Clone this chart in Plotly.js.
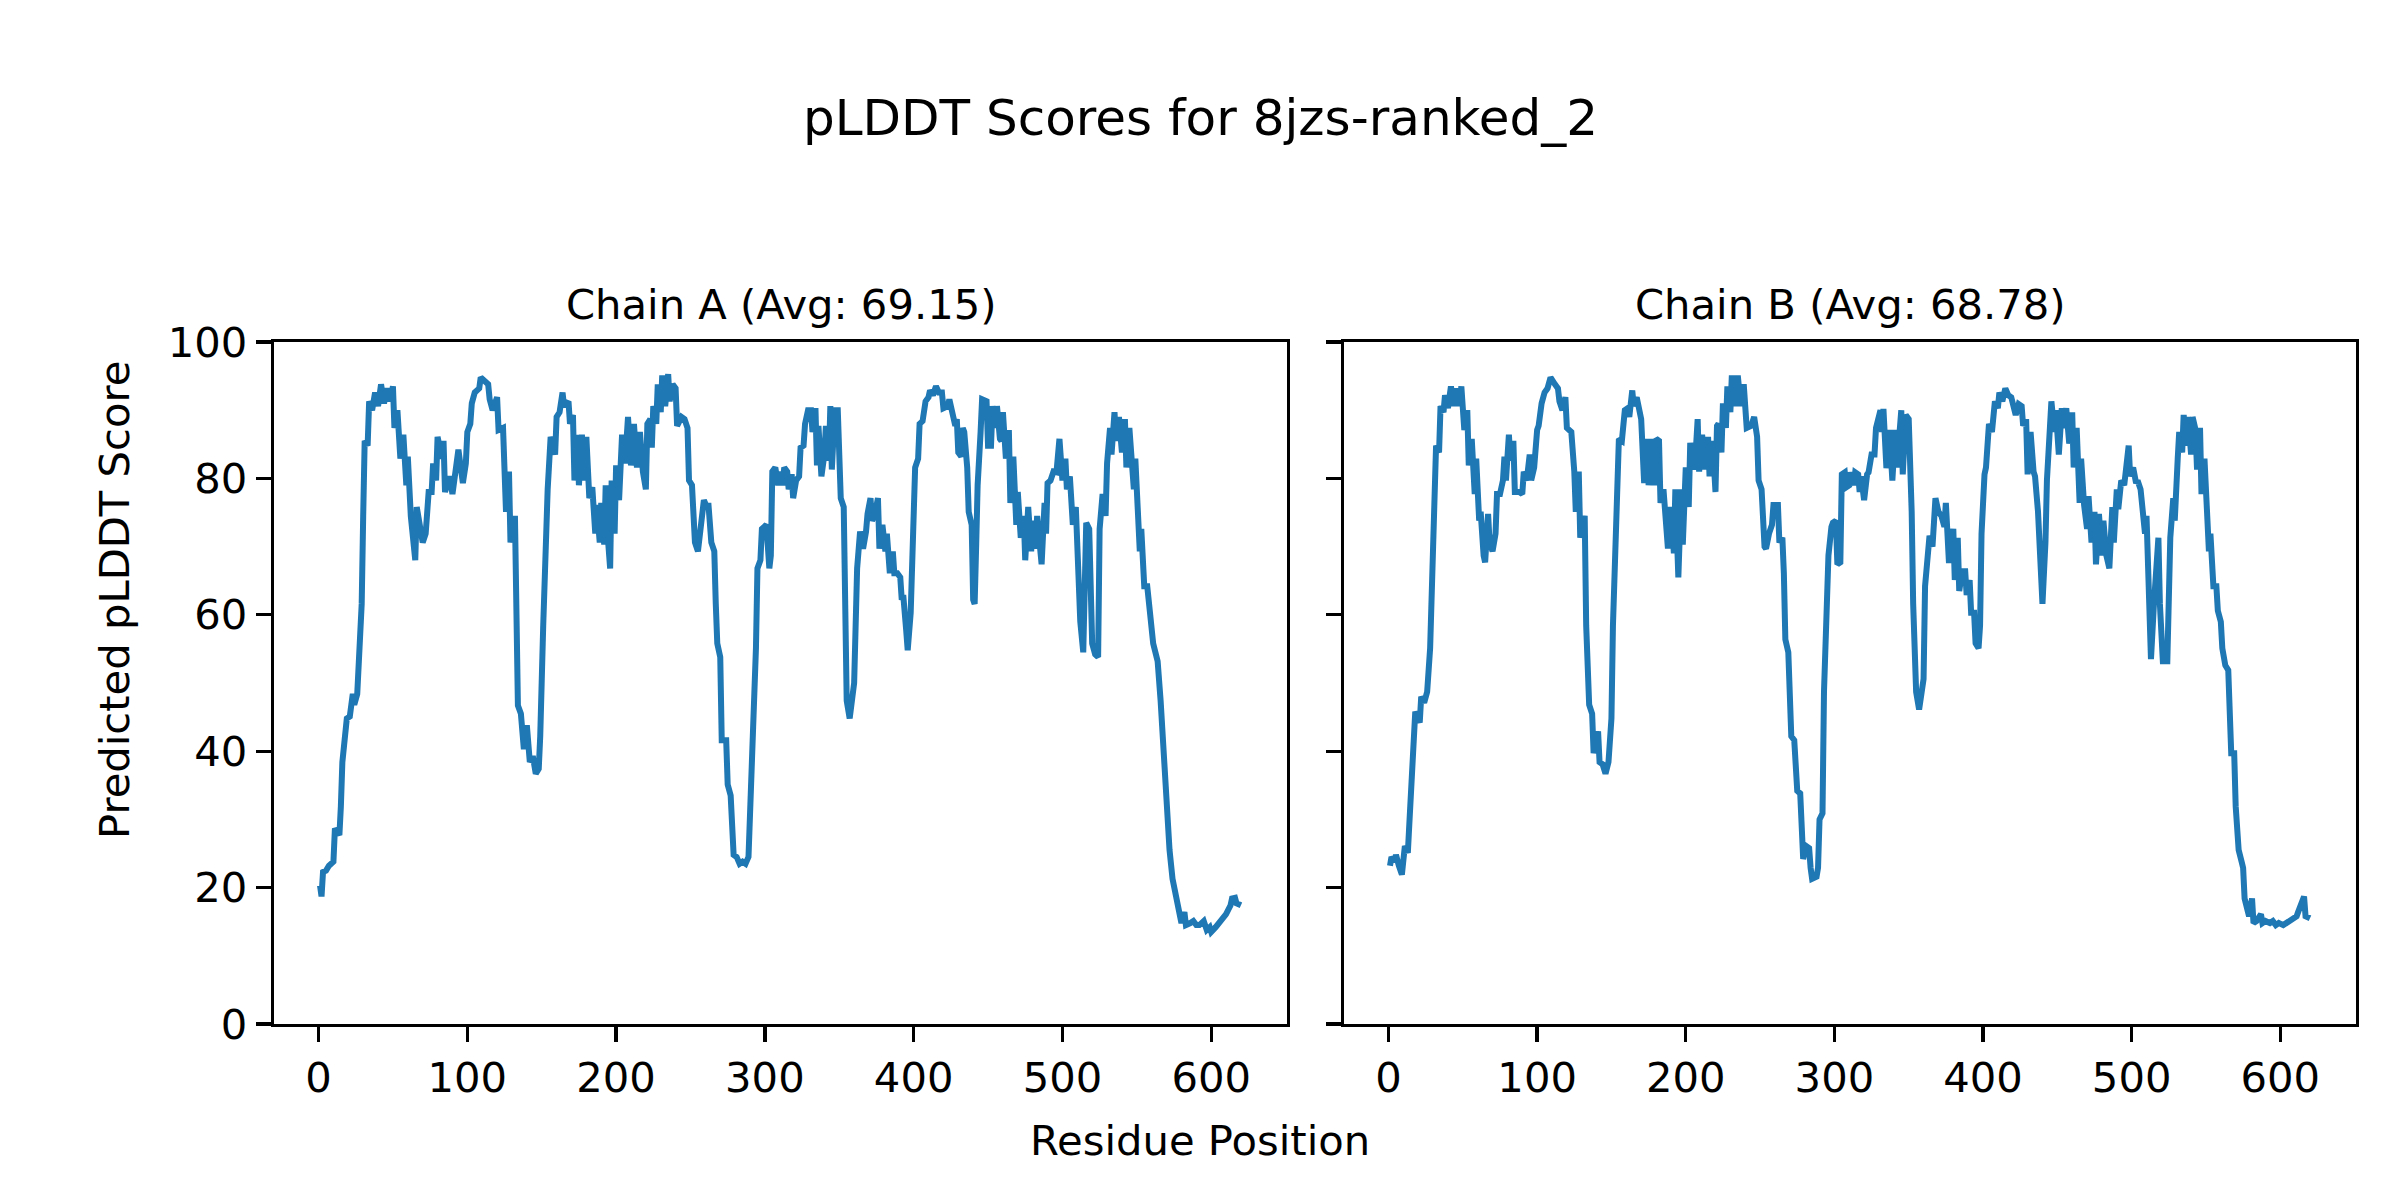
<!DOCTYPE html>
<html>
<head>
<meta charset="utf-8">
<script src="https://cdn.plot.ly/plotly-3.0.1.min.js"></script>
<style>html,body{margin:0;padding:0;background:#fff;}#chart{width:2400px;height:1200px;}</style>
</head>
<body>
<div id="chart"></div>
<script>
// ---- data ----
const figTitle = "pLDDT Scores for 8jzs-ranked_2";
const chainTitles = ["Chain A (Avg: 69.15)", "Chain B (Avg: 68.78)"];
const xLabel = "Residue Position";
const yLabel = "Predicted pLDDT Score";
const xTicks = [0, 100, 200, 300, 400, 500, 600];
const yTicks = [0, 20, 40, 60, 80, 100];

const resA = [1,2,3,5,7,10,11,14,15,16,19,21,23,24,26,28,29,30,31,33,34,36,38,40,42,44,46,48,50,51,53,55,57,59,60,62,63,65,66,68,70,72,74,76,77,79,80,83,84,85,88,90,92,94,97,99,100,102,103,105,108,109,112,114,115,117,120,121,124,126,128,129,132,134,136,138,140,142,144,146,148,149,151,153,154,156,159,160,162,164,165,168,169,171,172,174,175,177,179,180,182,184,186,187,189,190,192,193,194,196,197,199,200,202,204,206,208,210,212,214,216,218,220,221,223,224,225,227,228,230,231,233,235,236,238,240,241,244,246,248,249,251,253,255,257,259,261,262,264,266,267,268,270,271,274,275,277,279,281,283,285,287,289,290,291,292,294,295,297,298,300,301,303,304,305,307,309,310,312,313,315,316,318,319,321,323,324,326,327,329,331,332,334,335,336,338,340,341,343,344,345,347,349,350,351,353,354,355,357,358,360,362,363,364,366,368,369,371,372,374,376,377,379,381,382,383,384,386,387,389,391,392,393,395,396,398,400,401,403,404,406,408,410,411,413,415,417,419,420,423,424,426,428,429,430,432,433,434,436,437,439,440,441,442,443,445,446,449,450,452,453,455,456,458,459,460,462,464,465,467,469,470,472,474,475,477,479,480,482,483,484,486,488,489,490,492,494,496,498,500,502,503,505,507,509,511,512,514,515,516,518,519,520,522,524,525,527,529,530,532,533,535,536,538,539,540,542,543,545,546,548,549,551,552,553,555,557,558,559,561,563,564,566,568,569,570,572,574,576,577,579,580,582,583,586,588,590,592,595,597,599,600,603,605,607,609,610,613,614,616,617,620];
const plddtA = [20.3,18.7,22.3,22.5,23.2,23.8,28.7,27.7,31.9,38.4,44.8,45.1,48.4,46.8,48.4,55.1,61.6,74.5,85.5,84.8,91.3,90,92.6,90.6,93.8,91,93.2,91.3,93.5,87.4,90,82.9,86.4,79,83.2,74.5,71.9,68,75.8,72.6,70.6,71.9,78,78,82.2,79.7,86.1,82.9,85.5,78,80.3,77.7,81.6,84.2,79.3,82.2,86.8,88,91,92.6,93.2,94.8,94.2,93.8,91.6,90,91.9,87.1,87.4,75.1,81,70.6,74.5,46.7,45.5,40.3,43.8,38.4,39.3,36.7,37.4,42.2,58.4,74.5,78.4,86.1,83.5,89,89.7,92.6,90.6,91.3,88,89.3,79.7,86.4,79,86.4,79.7,86.1,77.1,78.7,71.9,76.1,70.6,76.4,70.3,79,72.6,66.8,79.7,71.9,81.9,76.8,86.4,82.2,89,81.9,88,81.6,86.8,81,78.4,88,88.7,84.5,90.6,88,93.8,89.7,95.1,90.6,95.3,91.3,93.8,93.2,87.7,89,88.7,87.4,79.7,79,70.6,69.3,73.2,76.8,75.8,76.4,70.6,69.3,61.6,55.8,53.8,41.6,41.6,35.1,33.5,24.8,24.5,23.5,23.8,23.5,24.5,31.3,31.9,43.5,55.1,66.8,68,72.6,73.2,73.2,66.8,68.7,81,81.6,79,81,79,81.6,81,78.4,80.6,77.1,79.7,80.3,84.5,84.8,88,90,90,86.8,90.3,81.9,87.7,80.3,83.5,87.7,82.6,90.6,81.3,90,90,82.9,77.1,75.8,59,47.4,44.8,46.8,50,66.8,71.9,72.2,69.7,72.2,74.8,77.1,73.8,74.8,77.1,69.7,73.2,69.3,71.9,67.4,66.1,69.3,66.1,66.1,65.5,62.2,62.9,57.7,54.8,60.3,73.8,81.6,82.9,88,88.4,91.3,91.9,92.9,92.2,93.5,92.6,92.6,90.3,90.6,91.6,89,87.7,88.7,83.8,83.2,87.4,86.8,81.6,75.1,73.2,62.2,61.6,70,79,86.8,91.6,91.3,84.8,84.8,90.6,87.4,90.6,85.8,85.5,89.7,82.9,87.1,76.4,83.2,73.2,78,71.3,74.5,68,75.8,69.3,73.8,69.7,74.5,71.9,67.4,76.4,71.9,79.3,79.7,81,80.9,85.8,79.7,82.9,78.4,80.3,73.2,75.8,66.1,59,54.5,64.8,73.5,72.6,62.2,55.8,54.2,53.8,72.6,77.7,74.5,82.2,87.4,83.5,89.7,85.5,89,84.8,83.8,88.7,81.6,87.4,83.2,78.4,82.9,70,69.3,72.6,64.2,64.2,60.9,60,55.8,53.5,53.2,47.4,39,38,31.9,25.5,21.3,18.7,17.7,16.1,14.8,16.4,14.5,14.8,15.1,14.5,14.5,15.1,13.8,14.2,13.5,14.2,14.8,15.5,16.1,16.1,17.4,18.4,18.5,17.7,17.4];

const resB = [1,2,4,5,7,9,11,13,14,16,18,21,22,24,26,28,29,31,32,34,35,37,38,40,42,44,46,48,49,51,53,54,56,58,59,61,62,64,65,67,68,70,72,73,75,77,78,79,81,82,84,85,88,90,91,93,95,96,98,100,101,103,105,107,109,112,114,115,117,119,120,123,125,126,128,129,132,133,135,137,138,141,142,144,146,148,150,151,153,154,155,157,159,161,162,164,165,167,169,170,172,174,175,177,179,180,182,183,185,187,188,190,192,193,195,197,198,200,202,203,206,208,209,211,213,215,216,218,220,221,222,224,225,227,228,230,231,233,235,237,239,241,244,246,248,249,251,253,254,256,258,259,262,263,265,266,267,269,271,273,275,277,279,281,283,284,285,288,289,290,292,293,295,296,298,299,301,302,304,305,307,308,310,311,313,314,316,317,318,320,322,323,325,327,328,330,331,332,333,335,337,339,341,342,345,346,348,350,351,352,353,355,357,358,360,361,363,364,366,368,370,372,374,375,377,378,380,381,383,384,386,388,389,391,392,394,395,397,398,399,401,402,404,406,408,410,411,413,415,417,419,421,422,424,426,427,429,430,432,434,435,437,438,439,440,442,443,445,446,448,449,451,453,454,456,458,460,461,463,465,466,468,470,471,473,475,476,478,480,481,483,485,487,488,490,491,493,495,496,498,499,501,503,504,506,508,509,510,512,513,515,517,518,519,521,524,525,526,528,529,531,532,534,535,537,538,540,541,543,544,546,547,549,550,552,553,555,557,558,560,561,563,565,567,569,570,572,574,575,576,578,579,581,582,584,587,588,590,593,595,597,599,602,604,606,608,611,612,614,616,617,620];
const plddtB = [23.2,24.5,23.8,24.8,23.2,21.9,26.1,25.1,29.3,37.7,45.8,44.2,48,47.1,48.7,55.1,64.2,73.2,84.8,83.8,90.6,89.7,92.2,90.3,93.5,90.6,93.2,90.6,93.5,87.1,90,81.9,85.8,77.7,82.9,73.8,75.1,68.7,67.7,74.8,70.6,69.3,71.9,77.7,77.7,79.7,83.2,79.7,86.4,82.6,85.5,78,78,77.7,81,79.7,83.5,79.7,81.6,87.1,87.7,91,92.6,93.2,94.8,93.8,93.2,91.3,90,91.9,87.4,86.8,81,75.1,81,71.3,74.5,58.4,46.8,45.5,39.7,42.9,38.4,38.1,36.7,38.4,44.8,58.4,75.1,78.4,85.8,85.5,90,90.3,89,92.9,90.6,91.9,88.7,88.7,79.3,85.8,79,85.8,79,85.8,85.5,76.4,78.4,70.6,69.7,75.8,69,78.4,65.5,78.4,70.3,81.6,75.8,85.2,81.3,88.7,81,86.4,81.3,86.1,80.3,85.5,78,87.7,88,83.8,91,87.4,93.5,89.7,95.1,90.6,95.1,90.6,93.8,87.4,87.7,89,86.1,79.7,78.4,70,69.7,71.9,73.2,76.1,76.1,70.6,71.3,66.1,56.4,54.5,42.2,41.6,34.2,33.8,24.2,26.1,25.8,22.9,21.3,21.6,22.9,30,30.9,48.7,64.8,68.7,72.9,73.5,73.8,67.4,67.7,80.6,80.9,78.7,79,80.9,79,80.9,80.6,78,80.3,76.8,80.6,80.9,83.5,83.5,87.4,89.7,90,86.8,90.2,81.5,87.1,79.7,87.1,81.6,90,80.6,89.3,88.7,82.2,75.1,61.6,48.7,46.1,47.4,50.6,64.2,71.3,71.6,70,77.1,75.1,74.5,72.9,76.4,68,68,72.6,65.1,71.3,63.5,66.4,66.4,62.9,65.1,60.3,60.3,55.8,55.1,58.4,71.9,80.6,81.6,88,86.8,91.3,90.3,92.6,91.3,93.2,92.2,91.9,89.7,89.3,90.9,90.6,87.7,88.7,80.6,86.8,81,80.3,75.1,69.3,62.9,61.6,70.6,79.7,87.4,91.3,86.8,90,83.5,90.3,87.4,90.3,85.1,89.7,81.6,87.4,76.4,82.9,76.1,72.6,77.4,70.6,75.1,67.4,74.8,68.7,73.8,68.7,66.8,75.8,70.6,78.4,75.5,79.7,79,81,84.8,80.3,81.6,79.3,79.7,78.4,75.1,71.9,74.5,62.9,53.5,61.6,71.3,71.3,61.6,53.2,53.2,59.7,71.3,77.1,73.8,82.9,86.8,83.8,89.3,84.8,89,83.5,89,87.1,81.3,87.4,77.7,82.9,77.7,69.3,71.9,64.2,64.2,60.6,59,55.1,52.6,51.9,39.7,39.7,31.9,25.5,23.8,22.9,18.4,16.4,15.8,18.4,14.8,15.1,16.1,14.8,15.1,14.8,15.1,14.5,14.8,14.5,14.8,15.1,15.5,15.8,16.4,17.7,18.7,15.8,15.5];

// ---- drawing ----
const FONT = "DejaVu Sans, Liberation Sans, sans-serif";
const FS = 41.7;
const W = 2400, H = 1200;
const lineColor = "#1f77b4";

const traces = [
  {x: resA, y: plddtA, type: "scatter", mode: "lines", xaxis: "x", yaxis: "y",
   line: {color: lineColor, width: 6}, hoverinfo: "skip", showlegend: false},
  {x: resB, y: plddtB, type: "scatter", mode: "lines", xaxis: "x2", yaxis: "y2",
   line: {color: lineColor, width: 6}, hoverinfo: "skip", showlegend: false}
];

const yDom = [1 - 1024 / H, 1 - 342 / H];
function xAxis(dom, anchor) {
  return {domain: dom, anchor: anchor, range: [-29.95, 650.95], tickvals: xTicks,
    ticktext: xTicks.map(String), ticks: "outside", ticklen: 15, tickwidth: 3.3,
    tickcolor: "#000", showline: true, linecolor: "#000", linewidth: 3.3, mirror: true,
    showgrid: false, zeroline: false, tickfont: {family: FONT, size: FS, color: "#000"}};
}
function yAxis(anchor, labels) {
  return {domain: yDom, anchor: anchor, range: [0, 100], tickvals: yTicks,
    ticktext: yTicks.map(String), showticklabels: labels, ticks: "outside", ticklen: 15,
    tickwidth: 3.3, tickcolor: "#000", showline: true, linecolor: "#000", linewidth: 3.3,
    mirror: true, showgrid: false, zeroline: false,
    tickfont: {family: FONT, size: FS, color: "#000"}};
}

const xd1 = [274 / W, 1287 / W], xd2 = [1344 / W, 2356 / W];
const layout = {
  width: W, height: H, autosize: false,
  margin: {l: 0, r: 0, t: 0, b: 0, pad: 0},
  paper_bgcolor: "#fff", plot_bgcolor: "#fff",
  xaxis: xAxis(xd1, "y"), yaxis: yAxis("x", true),
  xaxis2: xAxis(xd2, "y2"), yaxis2: yAxis("x2", false),
  annotations: [
    {text: figTitle, xref: "paper", yref: "paper", x: 0.5, y: 1 - 118 / H,
     xanchor: "center", yanchor: "middle", showarrow: false,
     font: {family: FONT, size: 50, color: "#000"}},
    {text: chainTitles[0], xref: "paper", yref: "paper", x: (xd1[0] + xd1[1]) / 2, y: 1 - 304 / H,
     xanchor: "center", yanchor: "middle", showarrow: false,
     font: {family: FONT, size: FS, color: "#000"}},
    {text: chainTitles[1], xref: "paper", yref: "paper", x: (xd2[0] + xd2[1]) / 2, y: 1 - 304 / H,
     xanchor: "center", yanchor: "middle", showarrow: false,
     font: {family: FONT, size: FS, color: "#000"}},
    {text: xLabel, xref: "paper", yref: "paper", x: 0.5, y: 1 - 1140 / H,
     xanchor: "center", yanchor: "middle", showarrow: false,
     font: {family: FONT, size: FS, color: "#000"}},
    {text: yLabel, xref: "paper", yref: "paper", x: 114 / W, y: 0.5, textangle: -90,
     xanchor: "center", yanchor: "middle", showarrow: false,
     font: {family: FONT, size: FS, color: "#000"}}
  ]
};

Plotly.newPlot("chart", traces, layout, {displayModeBar: false, staticPlot: true});
</script>
</body>
</html>
